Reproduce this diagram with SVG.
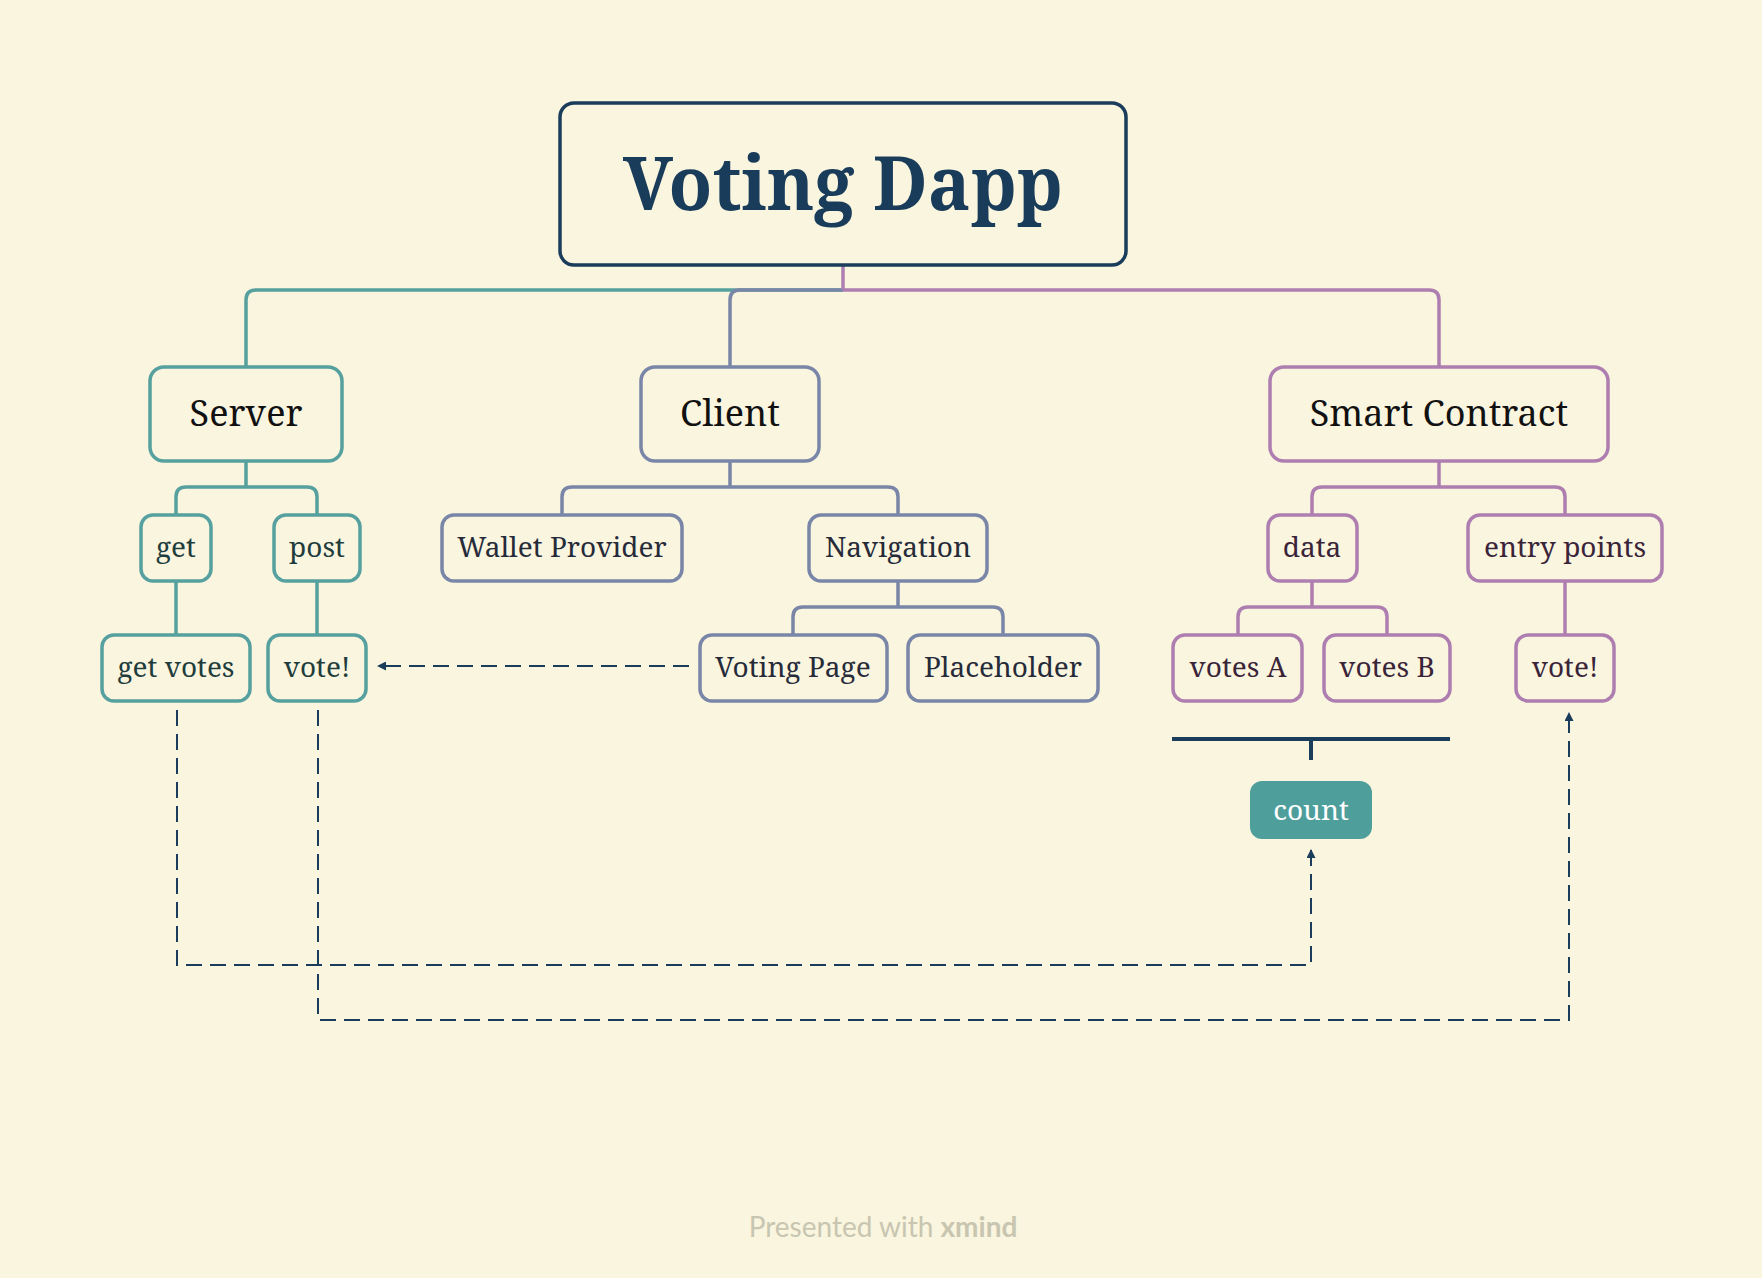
<svg xmlns="http://www.w3.org/2000/svg" width="1762" height="1278" viewBox="0 0 1762 1278">
<defs>
<style>
.bg{fill:#faf5df}
.t{font-family:"Noto Serif","DejaVu Serif",serif;text-anchor:middle}
.teal{fill:none;stroke:#56a19f;stroke-width:3.5}
.slate{fill:none;stroke:#7986a8;stroke-width:3.5}
.purp{fill:none;stroke:#ae7eb0;stroke-width:3.5}
.box{fill:#faf5df;stroke-width:3.5}
.bt{stroke:#56a19f}
.bs{stroke:#7986a8}
.bp{stroke:#ae7eb0}
.main{font-size:36px;fill:#111111}
.sub{font-size:28px}
.st{fill:#1e3d3c}
.ss{fill:#262b3a}
.sp{fill:#3a2439}
.dash{fill:none;stroke:#1a3d5c;stroke-width:2;stroke-dasharray:16 8}
</style>
<marker id="ah" viewBox="0 0 10 10" refX="10" refY="5" markerWidth="9" markerHeight="9" markerUnits="userSpaceOnUse" orient="auto">
<path d="M0,0 L10,5 L0,10 z" fill="#1a3d5c"/>
</marker>
</defs>
<rect class="bg" x="0" y="0" width="1762" height="1278"/>

<g id="connectors">
<path class="teal" d="M843,290 H256 Q246,290 246,300 V367"/>
<path class="slate" d="M843,290 H740 Q730,290 730,300 V367"/>
<path class="purp" d="M843,290 H1429 Q1439,290 1439,300 V367"/>
<path class="purp" d="M843,265 V290"/>
<path class="teal" d="M246,461 V487 M176,515 V497 Q176,487 186,487 H307 Q317,487 317,497 V515"/>
<path class="teal" d="M176,581 V635 M317,581 V635"/>
<path class="slate" d="M730,461 V487 M562,515 V497 Q562,487 572,487 H888 Q898,487 898,497 V515"/>
<path class="slate" d="M898,581 V607 M793,635 V617 Q793,607 803,607 H993 Q1003,607 1003,617 V635"/>
<path class="purp" d="M1439,461 V487 M1312,515 V497 Q1312,487 1322,487 H1555 Q1565,487 1565,497 V515"/>
<path class="purp" d="M1312,581 V607 M1238,635 V617 Q1238,607 1248,607 H1377 Q1387,607 1387,617 V635"/>
<path class="purp" d="M1565,581 V635"/>
<path d="M1172,739 H1450 M1311,739 V760" fill="none" stroke="#1a3d5c" stroke-width="4"/>
<path class="dash" d="M177,710 V965 H1311 V849" marker-end="url(#ah)"/>
<path class="dash" d="M318,710 V1020 H1569 V712" marker-end="url(#ah)"/>
<path class="dash" d="M689,666 H377" marker-end="url(#ah)"/>
</g>

<g id="root">
<rect x="560" y="103" width="566" height="162" rx="14" fill="#faf5df" stroke="#1a3d5c" stroke-width="3.5"/>
<text class="t" x="843" y="210" font-size="74" font-weight="bold" fill="#183c5a" textLength="440" lengthAdjust="spacingAndGlyphs">Voting Dapp</text>
</g>

<g id="server">
<rect class="box bt" x="150" y="367" width="192" height="94" rx="14"/>
<text class="t main" x="246" y="426">Server</text>
</g>
<g id="client">
<rect class="box bs" x="641" y="367" width="178" height="94" rx="14"/>
<text class="t main" x="730" y="426">Client</text>
</g>
<g id="smart-contract">
<rect class="box bp" x="1270" y="367" width="338" height="94" rx="14"/>
<text class="t main" x="1439" y="426">Smart Contract</text>
</g>

<g id="get">
<rect class="box bt" x="141" y="515" width="70" height="66" rx="12"/>
<text class="t sub st" x="176" y="557">get</text>
</g>
<g id="post">
<rect class="box bt" x="274" y="515" width="86" height="66" rx="12"/>
<text class="t sub st" x="317" y="557">post</text>
</g>
<g id="get-votes">
<rect class="box bt" x="102" y="635" width="148" height="66" rx="12"/>
<text class="t sub st" x="176" y="677">get votes</text>
</g>
<g id="server-vote">
<rect class="box bt" x="268" y="635" width="98" height="66" rx="12"/>
<text class="t sub st" x="317" y="677">vote!</text>
</g>

<g id="wallet-provider">
<rect class="box bs" x="442" y="515" width="240" height="66" rx="12"/>
<text class="t sub ss" x="562" y="557">Wallet Provider</text>
</g>
<g id="navigation">
<rect class="box bs" x="809" y="515" width="178" height="66" rx="12"/>
<text class="t sub ss" x="898" y="557">Navigation</text>
</g>
<g id="voting-page">
<rect class="box bs" x="700" y="635" width="187" height="66" rx="12"/>
<text class="t sub ss" x="793" y="677">Voting Page</text>
</g>
<g id="placeholder">
<rect class="box bs" x="908" y="635" width="190" height="66" rx="12"/>
<text class="t sub ss" x="1003" y="677">Placeholder</text>
</g>

<g id="data">
<rect class="box bp" x="1268" y="515" width="89" height="66" rx="12"/>
<text class="t sub sp" x="1312" y="557">data</text>
</g>
<g id="entry-points">
<rect class="box bp" x="1468" y="515" width="194" height="66" rx="12"/>
<text class="t sub sp" x="1565" y="557">entry points</text>
</g>
<g id="votes-a">
<rect class="box bp" x="1173" y="635" width="129" height="66" rx="12"/>
<text class="t sub sp" x="1238" y="677">votes A</text>
</g>
<g id="votes-b">
<rect class="box bp" x="1324" y="635" width="126" height="66" rx="12"/>
<text class="t sub sp" x="1387" y="677">votes B</text>
</g>
<g id="sc-vote">
<rect class="box bp" x="1516" y="635" width="98" height="66" rx="12"/>
<text class="t sub sp" x="1565" y="677">vote!</text>
</g>

<g id="count">
<rect x="1250" y="781" width="122" height="58" rx="12" fill="#4e9e9c"/>
<text class="t sub" x="1311" y="820" fill="#ffffff">count</text>
</g>

<g id="footer">
<text x="883" y="1237" text-anchor="middle" font-family="Lato,'Noto Sans',sans-serif" font-size="28" fill="#c8c5b0">Presented with <tspan font-weight="bold">xmind</tspan></text>
</g>
</svg>
